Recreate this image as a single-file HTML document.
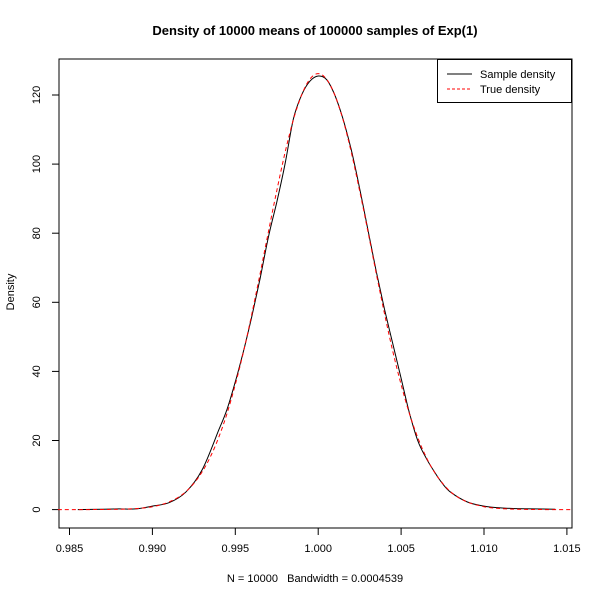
<!DOCTYPE html>
<html><head><meta charset="utf-8"><style>
body{margin:0;background:#fff}
svg{font-family:"Liberation Sans",Arial,sans-serif;display:block}
</style></head><body>
<svg width="600" height="600">
<rect width="600" height="600" fill="#fff"/>
<text x="315" y="35" text-anchor="middle" font-size="13" font-weight="bold">Density of 10000 means of 100000 samples of Exp(1)</text>
<text x="315" y="582" text-anchor="middle" font-size="11" xml:space="preserve" style="white-space:pre">N = 10000   Bandwidth = 0.0004539</text>
<text transform="translate(14,292) rotate(-90)" text-anchor="middle" font-size="11">Density</text>
<rect x="59" y="59" width="513" height="469" fill="none" stroke="#000"/>
<g id="axes"></g>
<g id="marks"></g>
<g>
<rect x="437.5" y="59.5" width="134" height="43" fill="#fff" stroke="#000"/>
<line x1="447" y1="74" x2="472" y2="74" stroke="#000"/>
<text x="480" y="78" font-size="11">Sample density</text>
<line x1="447" y1="89" x2="472" y2="89" stroke="#f00" stroke-dasharray="3,2"/>
<text x="480" y="93" font-size="11">True density</text>
</g>
</svg>
<script>
const xTicks=[0.985,0.990,0.995,1.000,1.005,1.010,1.015];
const xTickLabels=["0.985","0.990","0.995","1.000","1.005","1.010","1.015"];
const yTicks=[0,20,40,60,80,100,120];
const sampleX=[0.9855,0.987,0.988,0.989,0.990,0.991,0.992,0.993,0.994,0.9945,0.995,0.9955,0.996,0.9965,0.997,0.9975,0.998,0.9985,0.999,0.9995,1.000,1.0005,1.001,1.0015,1.002,1.0025,1.003,1.0035,1.004,1.0045,1.005,1.0055,1.006,1.0065,1.007,1.0075,1.008,1.009,1.010,1.011,1.012,1.013,1.0143];
const sampleY=[0,0.1,0.2,0.2,1.0,2.0,5.0,11.5,23,29,37,46,56,67,79,89,100,113,120,124,125.5,124.5,120,113,104,93,81,69,58,48,38,28,20,15,11,7.5,5,2.2,1.0,0.5,0.3,0.2,0.1];
const trueX=[0.9843,0.987,0.988,0.989,0.9895,0.990,0.9905,0.991,0.9915,0.992,0.9925,0.993,0.9935,0.994,0.9945,0.995,0.9955,0.996,0.9965,0.997,0.9975,0.998,0.9985,0.999,0.9995,1.000,1.0005,1.001,1.0015,1.002,1.0025,1.003,1.0035,1.004,1.0045,1.005,1.0055,1.006,1.0065,1.007,1.0075,1.008,1.0085,1.009,1.0095,1.010,1.0105,1.011,1.012,1.013,1.0153];
const trueY=[0,0.03,0.1,0.3,0.5,0.85,1.4,2.2,3.4,5.1,7.6,10.9,15.3,20.9,27.8,36.2,45.8,56.7,68.4,80.5,92.3,103.3,112.8,120.0,124.6,126.2,124.6,120.0,112.8,103.3,92.3,80.5,68.4,56.7,45.8,36.2,27.8,20.9,15.3,10.9,7.6,5.1,3.4,2.2,1.4,0.85,0.5,0.3,0.1,0.03,0];
const NS="http://www.w3.org/2000/svg";
const xs=v=>318.2+(v-1)*16580;
const ys=v=>509.6-v*3.455;
const axes=document.getElementById('axes'),marks=document.getElementById('marks');
function mk(tag,attrs,parent){const e=document.createElementNS(NS,tag);for(const k in attrs)e.setAttribute(k,attrs[k]);parent.appendChild(e);return e;}
xTicks.forEach((t,i)=>{
 const l=mk('line',{x1:xs(t),x2:xs(t),y1:528,y2:535,stroke:'#000'},axes);
 
 
 const tx=mk('text',{x:xs(t),y:552,'text-anchor':'middle','font-size':'11'},axes);
 tx.textContent=xTickLabels[i];
 
 
});
yTicks.forEach(t=>{
 const l=mk('line',{x1:52,x2:59,y1:ys(t),y2:ys(t),stroke:'#000'},axes);
 
 
 const tx=mk('text',{transform:`translate(40,${ys(t)}) rotate(-90)`,'text-anchor':'middle','font-size':'11'},axes);
 tx.textContent=String(t);
 
 
});
function path(X,Y){
 const P=X.map((x,i)=>[xs(x),ys(Y[i])]);
 let d='M'+P[0][0].toFixed(1)+','+P[0][1].toFixed(1);
 for(let i=0;i<P.length-1;i++){
  const p0=P[Math.max(0,i-1)],p1=P[i],p2=P[i+1],p3=P[Math.min(P.length-1,i+2)];
  const c1=[p1[0]+(p2[0]-p0[0])/6,p1[1]+(p2[1]-p0[1])/6];
  const c2=[p2[0]-(p3[0]-p1[0])/6,p2[1]-(p3[1]-p1[1])/6];
  d+='C'+c1.map(v=>v.toFixed(1)).join(',')+' '+c2.map(v=>v.toFixed(1)).join(',')+' '+p2.map(v=>v.toFixed(1)).join(',');
 }
 return d;
}
const s=mk('path',{d:path(sampleX,sampleY),fill:'none',stroke:'#000','stroke-width':1,'stroke-linejoin':'round'},marks);


const r=mk('path',{d:path(trueX,trueY),fill:'none',stroke:'#f00','stroke-width':1,'stroke-dasharray':'4,3'},marks);


</script>
</body></html>
